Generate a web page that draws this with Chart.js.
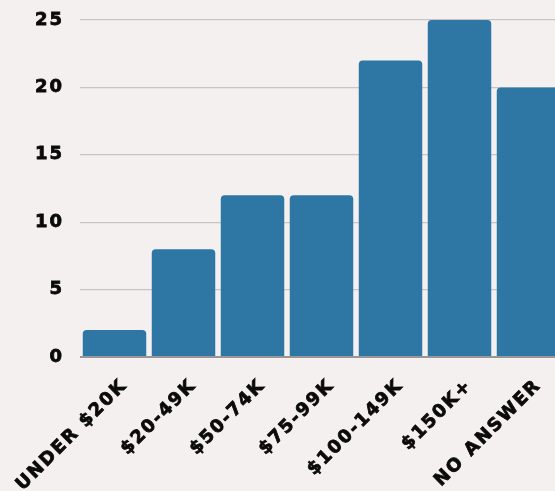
<!DOCTYPE html>
<html>
<head>
<meta charset="utf-8">
<script src="https://cdn.jsdelivr.net/npm/chart.js@4"></script>
<style>
  html, body { margin: 0; padding: 0; background: #f4f0ef; }
  #wrap { width: 555px; height: 491px; overflow: hidden; position: relative; }
  canvas { display: block; }
</style>
</head>
<body>
<div id="wrap"><canvas id="c" width="580" height="491"></canvas></div>
<script>
// Household income brackets and the number of respondents in each
const categories = ['UNDER $20K', '$20-49K', '$50-74K', '$75-99K', '$100-149K', '$150K+', 'NO ANSWER'];
const respondents = [2, 8, 12, 12, 22, 25, 20];
const yTicks = [0, 5, 10, 15, 20, 25];

const FONT = '"DejaVu Sans", sans-serif';
const INK = '#0a0a0a';

// Wider tracking for all canvas text
const spacing = {
  id: 'spacing',
  beforeInit(chart) { chart.ctx.letterSpacing = '2px'; },
  beforeDraw(chart) { chart.ctx.letterSpacing = '2px'; }
};

new Chart(document.getElementById('c'), {
  type: 'bar',
  data: {
    labels: categories,
    datasets: [{
      data: respondents,
      backgroundColor: '#2e77a5',
      borderRadius: { topLeft: 4, topRight: 4 },
      borderSkipped: 'bottom',
      barPercentage: 0.92,
      categoryPercentage: 1.0
    }]
  },
  options: {
    responsive: false,
    animation: false,
    layout: { padding: { top: 20, right: 17, left: 0, bottom: 0 } },
    plugins: { legend: { display: false }, tooltip: { enabled: false } },
    scales: {
      y: {
        min: 0, max: 25,
        afterFit(s) { s.width = 80; s.paddingTop = 0; s.paddingBottom = 0; },
        afterBuildTicks(s) { s.ticks = yTicks.map(v => ({ value: v })); },
        border: { display: false },
        grid: {
          drawTicks: false,
          color: ctx => ctx.tick && ctx.tick.value === 0 ? '#9a9696' : '#c9c4c4',
          lineWidth: ctx => ctx.tick && ctx.tick.value === 0 ? 2 : 1.2
        },
        ticks: {
          padding: 16,
          color: INK,
          textStrokeColor: INK,
          textStrokeWidth: 0.8,
          font: { family: FONT, size: 18, weight: 'bold' }
        }
      },
      x: {
        afterFit(s) { s.height = 491 - 357; },
        border: { display: false },
        grid: { display: false },
        ticks: {
          minRotation: 45, maxRotation: 45,
          padding: 10,
          labelOffset: 10,
          autoSkip: false,
          color: INK,
          textStrokeColor: INK,
          textStrokeWidth: 0.8,
          font: { family: FONT, size: 18, weight: 'bold' }
        }
      }
    }
  },
  plugins: [spacing]
});
</script>
</body>
</html>
